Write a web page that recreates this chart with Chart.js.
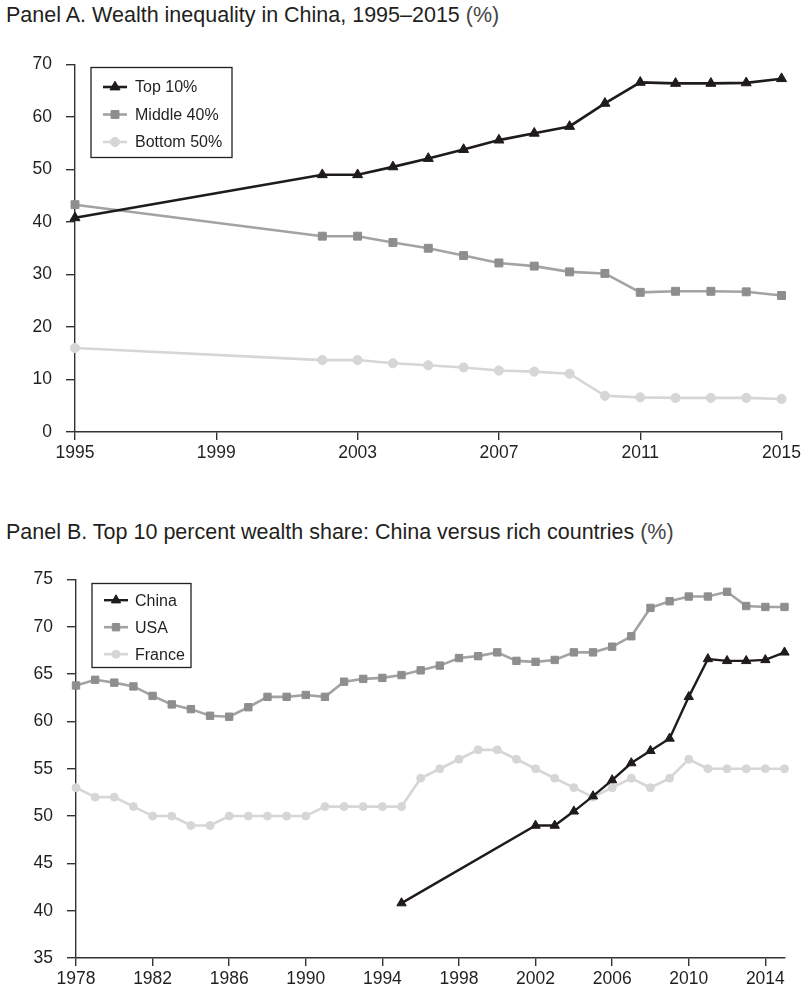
<!DOCTYPE html>
<html><head><meta charset="utf-8">
<script src="https://cdn.jsdelivr.net/npm/chart.js@4/dist/chart.umd.min.js"></script>
<style>
html,body{margin:0;padding:0;background:#fff}
body{width:804px;height:994px;position:relative;overflow:hidden;font-family:"Liberation Sans",Arial,sans-serif;color:#231f20}
.title{position:absolute;left:6px;font-size:21.5px;white-space:nowrap;line-height:1}
.pct{color:#444;font-weight:300}
#tA{top:5px}
#tB{top:522px}
canvas{position:absolute;left:0}
#cA{top:40px}
#cB{top:555px}
</style></head><body>
<div class="title" id="tA">Panel A. Wealth inequality in China, 1995–2015 <span class="pct">(%)</span></div>
<div class="title" id="tB">Panel B. Top 10 percent wealth share: China versus rich countries <span class="pct">(%)</span></div>
<canvas id="cA" width="804" height="430"></canvas>
<canvas id="cB" width="804" height="439"></canvas>
<script>
// ---- Panel A data ----
const yearsA = [1995, 2002, 2003, 2004, 2005, 2006, 2007, 2008, 2009, 2010, 2011, 2012, 2013, 2014, 2015];
const top10 = [40.8, 49.0, 49.0, 50.5, 52.1, 53.8, 55.6, 56.9, 58.2, 62.6, 66.6, 66.4, 66.4, 66.5, 67.3];
const middle40 = [43.3, 37.3, 37.3, 36.1, 35.0, 33.6, 32.2, 31.6, 30.5, 30.2, 26.6, 26.8, 26.8, 26.7, 26.0];
const bottom50 = [16.0, 13.7, 13.7, 13.1, 12.7, 12.3, 11.7, 11.5, 11.1, 6.9, 6.6, 6.5, 6.5, 6.5, 6.3];
const seriesNamesA = ['Top 10%', 'Middle 40%', 'Bottom 50%'];
const xTicksA = [1995, 1999, 2003, 2007, 2011, 2015];
const yTicksA = [0, 10, 20, 30, 40, 50, 60, 70];

// ---- Panel B data ----
const yearsB = [1978, 1979, 1980, 1981, 1982, 1983, 1984, 1985, 1986, 1987, 1988, 1989, 1990, 1991, 1992, 1993, 1994, 1995, 1996,
  1997, 1998, 1999, 2000, 2001, 2002, 2003, 2004, 2005, 2006, 2007, 2008, 2009, 2010, 2011, 2012, 2013, 2014, 2015];
const usa = [63.8, 64.4, 64.1, 63.7, 62.7, 61.8, 61.3, 60.6, 60.5, 61.5, 62.6, 62.6, 62.8, 62.6, 64.2, 64.5, 64.6, 64.9, 65.4,
  65.9, 66.7, 66.9, 67.3, 66.4, 66.3, 66.5, 67.3, 67.3, 67.9, 69.0, 72.0, 72.7, 73.2, 73.2, 73.7, 72.2, 72.1, 72.1];
const france = [53, 52, 52, 51, 50, 50, 49, 49, 50, 50, 50, 50, 50, 51, 51, 51, 51, 51, 54,
  55, 56, 57, 57, 56, 55, 54, 53, 52, 53, 54, 53, 54, 56, 55, 55, 55, 55, 55];
const chinaYears = [1995, 2002, 2003, 2004, 2005, 2006, 2007, 2008, 2009, 2010, 2011, 2012, 2013, 2014, 2015];
const china = [40.8, 49.0, 49.0, 50.5, 52.1, 53.8, 55.6, 56.9, 58.2, 62.6, 66.6, 66.4, 66.4, 66.5, 67.3];
const seriesNamesB = ['China', 'USA', 'France'];
const xTicksB = [1978, 1982, 1986, 1990, 1994, 1998, 2002, 2006, 2010, 2014];
const yTicksB = [35, 40, 45, 50, 55, 60, 65, 70, 75];

const INK = '#231f20', AXIS = '#333333';
const BLACK = '#1f1b1c', MID_LINE = '#a3a3a3', MID_PT = '#8e8e8e', LIGHT = '#d6d6d6';

function pts(xs, ys) { return xs.map((x, i) => ({ x: x, y: ys[i] })); }

const boxLegend = {
  id: 'boxLegend',
  afterDraw(chart, args, o) {
    const ctx = chart.ctx, ca = chart.chartArea;
    const bx = ca.left + o.dx, by = ca.top + o.dy;
    ctx.save();
    ctx.strokeStyle = INK; ctx.lineWidth = 1.3;
    ctx.strokeRect(bx, by, o.w, o.h);
    ctx.font = '16px "Liberation Sans", Arial, sans-serif';
    ctx.textBaseline = 'middle'; ctx.textAlign = 'left';
    chart.data.datasets.forEach((ds, i) => {
      const y = by + o.first + i * o.step;
      ctx.strokeStyle = ds.borderColor; ctx.lineWidth = ds.borderWidth;
      ctx.beginPath(); ctx.moveTo(bx + o.l0, y); ctx.lineTo(bx + o.l1, y); ctx.stroke();
      ctx.fillStyle = ds.pointBackgroundColor; ctx.strokeStyle = ds.pointBorderColor; ctx.lineWidth = 1;
      Chart.helpers.drawPoint(ctx, { pointStyle: ds.pointStyle, radius: ds.pointRadius, rotation: 0, borderWidth: 1 },
        bx + (o.l0 + o.l1) / 2, y);
      ctx.fillStyle = INK;
      ctx.fillText(ds.label, bx + o.tx, y + 1);
    });
    ctx.restore();
  }
};

function xScale(min, max, ticksArr, h) {
  return {
    type: 'linear', min: min, max: max,
    afterBuildTicks: s => { s.ticks = ticksArr.map(v => ({ value: v })); },
    afterFit: s => { s.height = h; },
    ticks: { autoSkip: false, maxRotation: 0, padding: 3, color: INK,
      font: { family: '"Liberation Sans", Arial, sans-serif', size: 17.5 },
      callback: v => String(v) },
    grid: { display: true, drawOnChartArea: false, drawTicks: true, tickLength: 8, color: AXIS, lineWidth: 1.4 },
    border: { display: true, color: AXIS, width: 1.4 }
  };
}
function yScale(min, max, ticksArr, w) {
  return {
    type: 'linear', min: min, max: max,
    afterBuildTicks: s => { s.ticks = ticksArr.map(v => ({ value: v })); },
    afterFit: s => { s.width = w; },
    ticks: { padding: 14, color: INK,
      font: { family: '"Liberation Sans", Arial, sans-serif', size: 17.5 },
      callback: v => String(v) },
    grid: { display: true, drawOnChartArea: false, drawTicks: true, tickLength: 9, color: AXIS, lineWidth: 1.4 },
    border: { display: true, color: AXIS, width: 1.4 }
  };
}
function ds(label, data, line, pt, style, r, bw) {
  return { label: label, data: data, borderColor: line, borderWidth: bw, pointStyle: style, pointRadius: r,
    pointBackgroundColor: pt, pointBorderColor: pt, pointBorderWidth: 1, tension: 0, clip: false, pointHoverRadius: r };
}

new Chart(document.getElementById('cA'), {
  type: 'line',
  data: { datasets: [
    ds(seriesNamesA[0], pts(yearsA, top10), BLACK, BLACK, 'triangle', 5.8, 2.6),
    ds(seriesNamesA[1], pts(yearsA, middle40), MID_LINE, MID_PT, 'rect', 5.6, 2.6),
    ds(seriesNamesA[2], pts(yearsA, bottom50), LIGHT, LIGHT, 'circle', 4.6, 2.6)
  ] },
  options: {
    responsive: false, animation: false, devicePixelRatio: 1,
    layout: { padding: { top: 21, right: 21, bottom: 0, left: 0 } },
    scales: { x: xScale(1995, 2015, xTicksA, 38), y: yScale(0, 70, yTicksA, 75) },
    plugins: { legend: { display: false }, tooltip: { enabled: false },
      boxLegend: { dx: 16, dy: 3, w: 141, h: 90, first: 19.5, step: 27.5, l0: 12, l1: 36, tx: 44 } }
  },
  plugins: [boxLegend]
});

new Chart(document.getElementById('cB'), {
  type: 'line',
  data: { datasets: [
    ds(seriesNamesB[0], pts(chinaYears, china), BLACK, BLACK, 'triangle', 5.4, 2.4),
    ds(seriesNamesB[1], pts(yearsB, usa), MID_LINE, MID_PT, 'rect', 5.2, 2.6),
    ds(seriesNamesB[2], pts(yearsB, france), LIGHT, LIGHT, 'circle', 4.0, 2.6)
  ] },
  options: {
    responsive: false, animation: false, devicePixelRatio: 1,
    layout: { padding: { top: 17, right: 19.5, bottom: 0, left: 0 } },
    scales: { x: xScale(1978, 2015, xTicksB, 36), y: yScale(35, 75, yTicksB, 76) },
    plugins: { legend: { display: false }, tooltip: { enabled: false },
      boxLegend: { dx: 16, dy: 4, w: 99, h: 84, first: 16.7, step: 27, l0: 12, l1: 36, tx: 43 } }
  },
  plugins: [boxLegend]
});
</script>
</body></html>
